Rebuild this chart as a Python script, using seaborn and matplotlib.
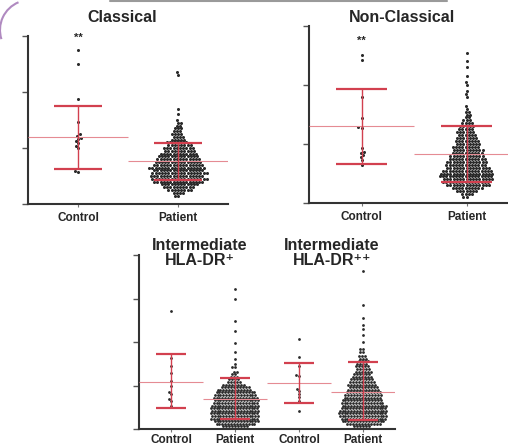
import numpy as np
import pandas as pd
import seaborn as sns
import matplotlib.pyplot as plt
from matplotlib.lines import Line2D
from matplotlib.patches import Arc

sns.set_style("ticks")
plt.rcParams['font.family'] = ['Liberation Sans', 'DejaVu Sans']

# Classical monocytes
cls_control = [2750, 2500, 1875, 1464, 1250, 1214, 1179, 1161, 1125, 1089, 1036, 1000, 589, 571]
cls_pat_levels = [150, 200, 250, 300, 350, 400, 450, 500, 550, 600, 650, 700, 750, 800, 850, 900,
                  950, 1000, 1050, 1100, 1150, 1200, 1250, 1300, 1350, 1400, 1450, 1500, 1600, 1700,
                  2300, 2350]
cls_pat_counts = [2, 4, 8, 10, 12, 16, 18, 17, 18, 16, 18, 16, 15, 14, 13, 12,
                  10, 10, 8, 7, 5, 4, 4, 3, 3, 2, 2, 1, 1, 1,
                  1, 1]
cls_mean = [1196, 768]
cls_low = [625, 429]
cls_high = [1750, 1089]

# Non-classical monocytes
ncl_control = [2508, 2424, 1797, 1441, 1288, 1271, 932, 864, 847, 814, 780, 729, 644]
ncl_pat_levels = [100, 150, 200, 250, 300, 350, 400, 450, 500, 550, 600, 650, 700, 750, 800, 850,
                  900, 950, 1000, 1050, 1100, 1150, 1200, 1250, 1300, 1350, 1400, 1450, 1500, 1550,
                  1600, 1650, 1800, 1850, 1900, 2000, 2050, 2150, 2300, 2400, 2550]
ncl_pat_counts = [2, 4, 7, 10, 14, 15, 16, 17, 17, 16, 14, 13, 13, 12, 11, 10,
                  10, 9, 8, 8, 7, 6, 6, 5, 5, 4, 3, 2, 2, 2,
                  1, 1, 1, 1, 1, 1, 1, 1, 1, 1, 1]
ncl_mean = [1305, 831]
ncl_low = [661, 356]
ncl_high = [1932, 1305]

# Intermediate HLA-DR+ / HLA-DR++
int1_control = [2720, 1623, 1440, 1280, 1097, 983, 846, 800, 686, 640, 526]
int1_pat_levels = [60, 120, 180, 240, 300, 360, 420, 480, 540, 600, 660, 720, 780, 840, 900, 960,
                   1020, 1080, 1140, 1200, 1260, 1320, 1420, 1490, 1600, 1760, 1970, 2260, 2490,
                   3000, 3220]
int1_pat_counts = [9, 14, 16, 17, 17, 17, 17, 17, 17, 16, 16, 16, 15, 14, 12, 10,
                   8, 5, 4, 3, 2, 2, 2, 1, 1, 1, 1, 1, 1,
                   1, 1]
int2_control = [2080, 1646, 1440, 1234, 1211, 914, 869, 800, 731, 640, 411]
int2_pat_levels = [60, 120, 180, 240, 300, 360, 420, 480, 540, 600, 660, 720, 780, 840, 900, 960,
                   1020, 1080, 1140, 1200, 1260, 1320, 1380, 1440, 1500, 1560, 1620, 1680, 1760,
                   1850, 1990, 2170, 2290, 2380, 2560, 2860, 3630]
int2_pat_counts = [6, 12, 15, 16, 17, 17, 17, 16, 16, 15, 14, 13, 13, 12, 11, 10,
                   10, 9, 8, 7, 6, 6, 5, 5, 4, 4, 3, 3, 2,
                   2, 1, 1, 1, 1, 1, 1, 1]
int_mean = [1074, 700, 1051, 860]
int_low = [480, 230, 594, 206]
int_high = [1714, 1166, 1509, 1531]


def long_df(groups):
    rows = []
    for name, vals in groups:
        rows += [(name, v) for v in vals]
    return pd.DataFrame(rows, columns=['group', 'value'])


def expand(levels, counts):
    return list(np.repeat(levels, counts))


def draw_panel(ax, df, order, means, lows, highs, ymax, nticks, pad=4, dot=2.2):
    sns.swarmplot(data=df, x='group', y='value', order=order, color='#2a2a2a',
                  size=dot, linewidth=0, ax=ax, warn_thresh=1)
    for i, (m, lo, hi) in enumerate(zip(means, lows, highs)):
        ax.hlines(m, i - 0.5, i + 0.5, color='#e58b93', lw=0.8, zorder=3)
        ax.vlines(i, lo, hi, color='#d2404f', lw=1.0, zorder=3)
        ax.hlines([lo, hi], i - 0.24, i + 0.24, color='#d2404f', lw=1.6, zorder=3)
    ax.set_xlim(-0.5, len(order) - 0.5)
    ax.set_ylim(0, ymax)
    ax.set_yticks(np.linspace(0, ymax, nticks))
    ax.set_yticklabels([])
    ax.set_xlabel('')
    ax.set_ylabel('')
    ax.set_facecolor('none')
    for s in ['top', 'right']:
        ax.spines[s].set_visible(False)
    for s in ['left', 'bottom']:
        ax.spines[s].set_linewidth(1.5)
        ax.spines[s].set_color('#333333')
    ax.tick_params(axis='y', length=4, width=1.0, color='#555555')
    ax.tick_params(axis='x', length=2, width=0.8, color='#777777', pad=pad)
    for t in ax.get_xticklabels():
        t.set_fontweight('bold')
        t.set_fontsize(8.5)


fig = plt.figure(figsize=(5.08, 4.46), dpi=100)
fig.patch.set_facecolor('white')

ax1 = fig.add_axes([28 / 508, 1 - 204 / 446, 200 / 508, 168 / 446])
df1 = long_df([('Control', cls_control), ('Patient', expand(cls_pat_levels, cls_pat_counts))])
draw_panel(ax1, df1, ['Control', 'Patient'], cls_mean, cls_low, cls_high, 3000, 4)
ax1.text(0, 2964, '**', ha='center', va='center', fontsize=8, fontweight='bold')

ax2 = fig.add_axes([309 / 508, 1 - 203 / 446, 210 / 508, 177 / 446])
df2 = long_df([('Control', ncl_control), ('Patient', expand(ncl_pat_levels, ncl_pat_counts))])
draw_panel(ax2, df2, ['Control', 'Patient'], ncl_mean, ncl_low, ncl_high, 3000, 4)
ax2.text(0, 2746, '**', ha='center', va='center', fontsize=8, fontweight='bold')

ax3 = fig.add_axes([139 / 508, 1 - 429 / 446, 256 / 508, 174 / 446])
df3 = long_df([('C1', int1_control), ('P1', expand(int1_pat_levels, int1_pat_counts)),
               ('C2', int2_control), ('P2', expand(int2_pat_levels, int2_pat_counts))])
draw_panel(ax3, df3, ['C1', 'P1', 'C2', 'P2'], int_mean, int_low, int_high, 4000, 5,
           pad=1.5, dot=2.0)
ax3.set_xticks(range(4))
ax3.set_xticklabels(['Control', 'Patient', 'Control', 'Patient'], fontweight='bold', fontsize=8.5)

title_kw = dict(ha='center', va='center', fontsize=11.5, fontweight='bold', linespacing=1.0)
fig.text(122 / 508, 1 - 18 / 446, 'Classical', **title_kw)
fig.text(402 / 508, 1 - 18 / 446, 'Non-Classical', **title_kw)
fig.text(200 / 508, 1 - 253 / 446, 'Intermediate\nHLA-DR\u207a', **title_kw)
fig.text(332 / 508, 1 - 253 / 446, 'Intermediate\nHLA-DR\u207a\u207a', **title_kw)

# slide remnants: frame edge at the top, rounded corner at top-left
fig.add_artist(Line2D([110 / 508, 447 / 508], [1 - 1 / 446, 1 - 1 / 446],
                      color='#9a9a9a', lw=1.5))
fig.add_artist(Arc((30 / 508, 1 - 30 / 446), 60 / 508, 60 / 446, theta1=110, theta2=200,
                   color='#b08ac0', lw=1.5))

fig.savefig('out.png', dpi=100)
